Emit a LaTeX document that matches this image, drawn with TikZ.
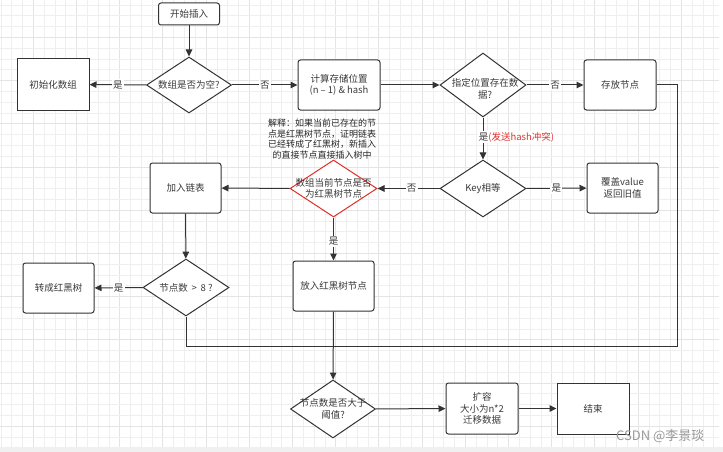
\documentclass[tikz,border=0pt]{standalone}
\usepackage{fontspec}
\setmainfont{Noto Sans CJK SC}
\usetikzlibrary{shapes.geometric,arrows.meta}
\definecolor{ink}{HTML}{333333}
\definecolor{txtc}{HTML}{3A3A3A}
\definecolor{redline}{HTML}{E0302A}
\definecolor{gridminor}{HTML}{EFEFEF}
\definecolor{gridmajor}{HTML}{E4E4E4}
\begin{document}
\begin{tikzpicture}[x=1pt,y=-1pt,
  txt/.style={font=\fontsize{9.5}{11.5}\selectfont, text=txtc, align=center},
  box/.style={draw=ink, line width=1pt, rounded corners=2.5pt, fill=white, txt, inner sep=0pt},
  sqbox/.style={box, rounded corners=0pt},
  dia/.style={diamond, draw=ink, line width=1pt, fill=white, inner sep=0pt, aspect=1.5},
  arr/.style={-{Triangle[length=7pt,width=6.5pt]}, line width=1pt, draw=ink},
  con/.style={line width=1pt, draw=ink},
  lab/.style={fill=white, inner sep=1.2pt, txt}
]
\useasboundingbox (0,0) rectangle (723,452);
\fill[white] (0,0) rectangle (723,452);
% grid
\foreach \k in {0,...,66} {
  \pgfmathsetmacro{\gx}{0.9+10.8*\k}
  \pgfmathtruncatemacro{\m}{mod(\k,4)}
  \ifnum\m=3
    \draw[gridmajor, line width=0.9pt] (\gx,0) -- (\gx,447);
  \else
    \draw[gridminor, line width=0.7pt] (\gx,0) -- (\gx,447);
  \fi
}
\foreach \k in {0,...,41} {
  \pgfmathsetmacro{\gy}{5+10.8*\k}
  \pgfmathtruncatemacro{\m}{mod(\k,4)}
  \ifnum\m=3
    \draw[gridmajor, line width=0.9pt] (0,\gy) -- (719,\gy);
  \else
    \draw[gridminor, line width=0.7pt] (0,\gy) -- (719,\gy);
  \fi
}
\fill[black!6] (0,447) rectangle (723,452);

% nodes
\node[box, minimum width=61pt, minimum height=22pt] (start) at (189,14) {开始插入};
\node[dia, minimum width=85pt, minimum height=56pt] (d1) at (189,85) {};
\node[txt] (d1t) at (d1) {数组是否为空?};
\node[sqbox, minimum width=72pt, minimum height=51pt] (init) at (53,84.5) {初始化数组};
\node[box, minimum width=82pt, minimum height=50pt] (calc) at (339,85) {计算存储位置\\(n – 1) \& hash};
\node[dia, minimum width=86pt, minimum height=64pt] (d2) at (483,85) {};
\node[txt] (d2t) at (485,89) {指定位置存在数\\据?};
\node[box, minimum width=72pt, minimum height=50pt] (store) at (620,85) {存放节点};

\node[txt, font=\fontsize{9}{10.7}\selectfont, text=black!85] (note) at (322,139) {解释：如果当前已存在的节\\点是红黑树节点，证明链表\\已经转成了红黑树，新插入\\的直接节点直接插入树中};

\node[dia, minimum width=86pt, minimum height=57pt] (d3) at (483,188.5) {};
\node[txt] (d3t) at (d3) {Key相等};
\node[box, minimum width=71pt, minimum height=50pt] (cover) at (622.5,188) {覆盖value\\返回旧值};
\node[dia, draw=redline, minimum width=87pt, minimum height=57pt] (d4) at (333.5,188.5) {};
\node[txt] (d4t) at (d4) {数组当前节点是否\\为红黑树节点};
\node[box, minimum width=71pt, minimum height=50pt] (list) at (185.5,188) {加入链表};
\node[dia, minimum width=86pt, minimum height=57pt] (d5) at (186,287.5) {};
\node[txt] (d5t) at (d5) {节点数 \,>\, 8 ?};
\node[box, minimum width=71pt, minimum height=50pt] (tree) at (58.5,288) {转成红黑树};
\node[box, minimum width=81pt, minimum height=50pt] (put) at (333.5,286) {放入红黑树节点};
\node[dia, minimum width=85pt, minimum height=58pt] (d6) at (333,409) {};
\node[txt] (d6t) at (d6) {节点数是否大于\\阈值?};
\node[box, minimum width=72pt, minimum height=51pt] (expand) at (482,408.5) {扩容\\大小为n*2\\迁移数据};
\node[sqbox, minimum width=72pt, minimum height=51pt] (end) at (593,408.5) {结束};

\coordinate (jr) at (677,346);
\coordinate (jl) at (186,346);

% connectors
\draw[arr] (start) -- (d1);
\draw[arr] (d1) -- node[lab, pos=0.5] {是} (init);
\draw[arr] (d1) -- node[lab, pos=0.5] {否} (calc);
\draw[arr] (calc) -- (d2);
\draw[arr] (d2) -- node[lab, pos=0.5] {否} (store);
\draw[arr] (d2) -- (d3);
\node[lab, anchor=west] (hashlab) at (477.5,137) {是\textcolor{redline}{(发送hash冲突)}};
\draw[arr] (d3) -- node[lab, pos=0.45] {否} (d4);
\draw[arr] (d3) -- node[lab, pos=0.5] {是} (cover);
\draw[arr] (d4) -- (list);
\draw[arr] (d4) -- node[lab, pos=0.55] {是} (put);
\draw[arr] (list) -- (d5);
\draw[arr] (d5) -- node[lab, pos=0.5] {是} (tree);
\draw[con] (store.east) -| (jr) -- (jl) -- (d5.south);
\draw[arr] (put) -- (d6);
\draw[arr] (d6) -- (expand);
\draw[arr] (expand) -- (end);

\node[font=\fontsize{13}{14}\selectfont, text=black!40, anchor=east] (wm) at (708,436) {CSDN @李景琰};
\end{tikzpicture}
\end{document}
